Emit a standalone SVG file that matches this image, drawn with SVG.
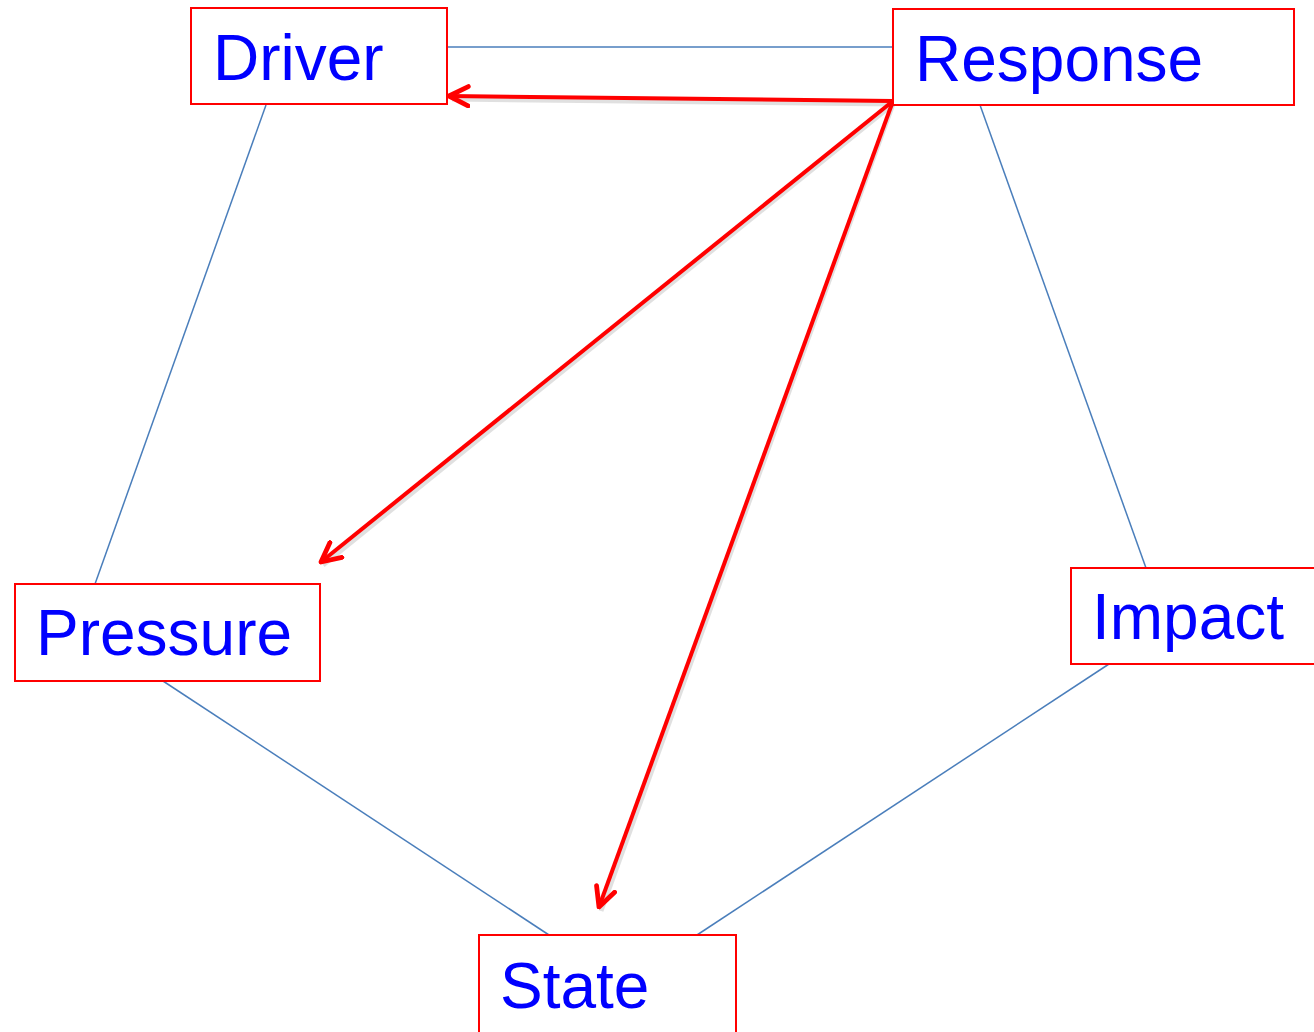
<svg xmlns="http://www.w3.org/2000/svg" width="1314" height="1032" viewBox="0 0 1314 1032">
<style>
.box{fill:#fff;stroke:#ff0000;stroke-width:2}
.lbl{font-family:"Liberation Sans",Arial,sans-serif;font-size:64px;fill:#0000ff}
.link{stroke:#4a7ebb;stroke-width:1.5;fill:none}
.arr{stroke:#ff0000;stroke-width:4;fill:none;marker-end:url(#ah)}
.sh{stroke:#000;stroke-opacity:0.12;stroke-width:5;fill:none}
</style>
<defs>
<marker id="ah" viewBox="0 0 10 10" refX="9" refY="5" markerWidth="6" markerHeight="6" orient="auto" markerUnits="strokeWidth">
<path d="M1,1 L9,5 L1,9" fill="none" stroke="#ff0000" stroke-width="2" stroke-linecap="round" stroke-linejoin="round"/>
</marker>
</defs>
<rect width="1314" height="1032" fill="#fff"/>
<g id="connectors">
<line class="link" x1="447" y1="47" x2="893" y2="47"/>
<line class="link" x1="266" y1="105" x2="95" y2="584"/>
<line class="link" x1="163" y1="681" x2="549" y2="935"/>
<line class="link" x1="697" y1="935" x2="1109" y2="664"/>
<line class="link" x1="1146" y1="568" x2="980" y2="105"/>
<line class="sh" x1="893" y1="104" x2="452" y2="99"/>
<line class="sh" x1="893" y1="104" x2="323" y2="565"/>
<line class="sh" x1="893" y1="104" x2="601" y2="911"/>
<line class="arr" x1="893" y1="101" x2="449" y2="96"/>
<line class="arr" x1="893" y1="101" x2="321" y2="562"/>
<line class="arr" x1="893" y1="101" x2="599" y2="907"/>
</g>
<g id="driver"><rect class="box" x="191" y="8" width="256" height="96"/><text class="lbl" x="213" y="80">Driver</text></g>
<g id="response"><rect class="box" x="893" y="9" width="401" height="96"/><text class="lbl" x="915" y="81">Response</text></g>
<g id="pressure"><rect class="box" x="15" y="584" width="305" height="97"/><text class="lbl" x="36" y="655">Pressure</text></g>
<g id="impact"><rect class="box" x="1071" y="568" width="250" height="96"/><text class="lbl" x="1092" y="639">Impact</text></g>
<g id="state"><rect class="box" x="479" y="935" width="257" height="100"/><text class="lbl" x="500" y="1008">State</text></g>
</svg>
